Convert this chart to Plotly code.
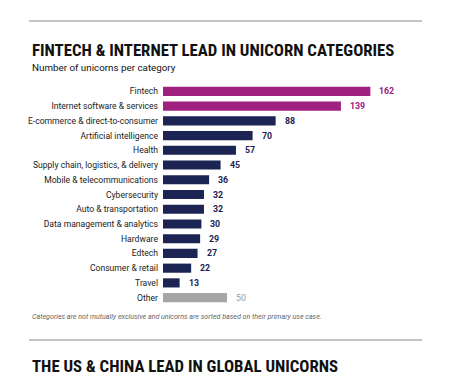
import plotly.graph_objects as go

categories = ["Fintech", "Internet software & services", "E-commerce & direct-to-consumer",
              "Artificial intelligence", "Health", "Supply chain, logistics, & delivery",
              "Mobile & telecommunications", "Cybersecurity", "Auto & transportation",
              "Data management & analytics", "Hardware", "Edtech", "Consumer & retail",
              "Travel", "Other"]
values = [162, 139, 88, 70, 57, 45, 36, 32, 32, 30, 29, 27, 22, 13, 50]
MAGENTA, NAVY, GRAY = "#a0207f", "#1b2452", "#a6a6a6"
bar_colors = [MAGENTA, MAGENTA] + [NAVY] * 12 + [GRAY]
label_colors = [MAGENTA, MAGENTA] + [NAVY] * 12 + ["#9a9a9a"]

W, H = 450, 375
L, R, T, B = 163, 20, 84, 70
pw, ph = W - L - R, H - T - B

def px(x):
    return (x - L) / pw

def py(y):
    return (H - B - y) / ph

fig = go.Figure(go.Bar(
    x=values, y=categories, orientation="h",
    marker=dict(color=bar_colors, line=dict(width=0)),
    width=0.62, hoverinfo="skip",
))

annotations = []
for c, v, col in zip(categories, values, label_colors):
    annotations.append(dict(x=v, y=c, xref="x", yref="y", text=f"<b>{v}</b>" if col != "#9a9a9a" else str(v),
                            showarrow=False, xanchor="left", xshift=7,
                            font=dict(family="Roboto", size=8.8, color=col)))

TITLE_FONT = "Roboto Condensed, Liberation Sans Narrow, DejaVu Sans Condensed, Roboto"
annotations += [
    dict(x=px(30), y=py(50), xref="paper", yref="paper", xanchor="left", yanchor="middle",
         text="<b>FINTECH & INTERNET LEAD IN UNICORN CATEGORIES</b>", showarrow=False,
         font=dict(family=TITLE_FONT, size=16.8, color="#111111")),
    dict(x=px(30), y=py(67), xref="paper", yref="paper", xanchor="left", yanchor="middle",
         text="Number of unicorns per category", showarrow=False,
         font=dict(family="Roboto", size=9.8, color="#111111")),
    dict(x=px(30), y=py(316), xref="paper", yref="paper", xanchor="left", yanchor="middle",
         text="<i>Categories are not mutually exclusive and unicorns are sorted based on their primary use case.</i>",
         showarrow=False, font=dict(family="Roboto", size=7.1, color="#666666")),
    dict(x=px(30), y=py(366), xref="paper", yref="paper", xanchor="left", yanchor="middle",
         text="<b>THE US & CHINA LEAD IN GLOBAL UNICORNS</b>", showarrow=False,
         font=dict(family=TITLE_FONT, size=16.8, color="#111111")),
]

shapes = [
    dict(type="line", xref="paper", yref="paper", x0=px(29), x1=px(422), y0=py(21), y1=py(21),
         line=dict(color="#c4c4c4", width=2)),
    dict(type="line", xref="paper", yref="paper", x0=px(29), x1=px(422), y0=py(340), y1=py(340),
         line=dict(color="#c4c4c4", width=2)),
]

fig.update_layout(
    width=W, height=H, margin=dict(l=L, r=R, t=T, b=B, autoexpand=False),
    paper_bgcolor="white", plot_bgcolor="white", showlegend=False,
    xaxis=dict(range=[0, pw / 1.28], visible=False, fixedrange=True),
    yaxis=dict(categoryorder="array", categoryarray=categories, autorange="reversed",
               showgrid=False, zeroline=False, showline=False, ticks="", ticklabelstandoff=4,
               tickfont=dict(family="Roboto", size=8.6, color="#222222")),
    annotations=annotations, shapes=shapes,
)

fig.write_html("out.html", config={"displayModeBar": False},
               post_script="document.body.style.margin='0';document.body.style.overflow='hidden';")
